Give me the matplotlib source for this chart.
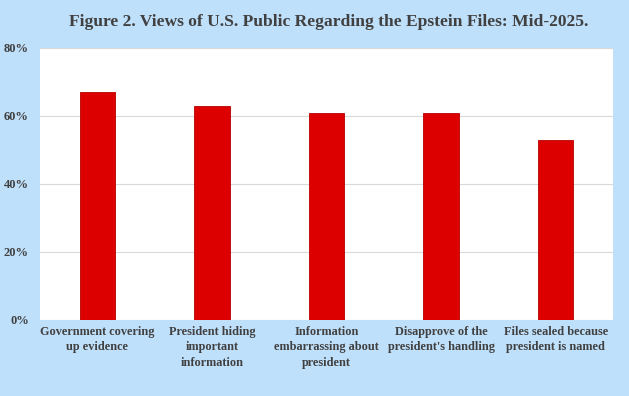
import matplotlib.pyplot as plt
from matplotlib.ticker import PercentFormatter

# data
categories = ["Government covering\nup evidence",
              "President hiding\nimportant\ninformation",
              "Information\nembarrassing about\npresident",
              "Disapprove of the\npresident's handling",
              "Files sealed because\npresident is named"]
values = [67, 63, 61, 61, 53]
yticks = [0, 20, 40, 60, 80]

bg = "#bfe0fb"
txt = "#404040"

plt.rcParams['font.family'] = ['Liberation Serif', 'DejaVu Serif']

fig = plt.figure(figsize=(6.29, 3.96), dpi=100, facecolor=bg)
ax = fig.add_axes([40/629, 1-320/396, 573/629, 272/396])
ax.set_facecolor("white")

x = list(range(len(categories)))
ax.bar(x, values, width=0.31, color="#dd0000", edgecolor="#b80000", linewidth=0.6, zorder=3)

ax.set_xlim(-0.5, len(categories) - 0.5)
ax.set_ylim(0, 80)
ax.set_yticks(yticks)
ax.yaxis.set_major_formatter(PercentFormatter(decimals=0))
ax.grid(axis='y', color="#d9d9d9", linewidth=0.8, zorder=0)
ax.set_xticks(x)
ax.set_xticklabels(categories, fontsize=8.8, fontweight='bold', color=txt, linespacing=1.4)
for lab in ax.get_yticklabels():
    lab.set_fontsize(9)
    lab.set_fontweight('bold')
    lab.set_color(txt)
ax.tick_params(length=0, pad=4)
ax.tick_params(axis='y', pad=8)
for s in ax.spines.values():
    s.set_visible(False)

fig.text(0.522, 1-22/396, "Figure 2. Views of U.S. Public Regarding the Epstein Files: Mid-2025.",
         ha='center', va='center', fontsize=12.6, fontweight='bold', color=txt)

fig.savefig("out.png", dpi=100, facecolor=bg)
